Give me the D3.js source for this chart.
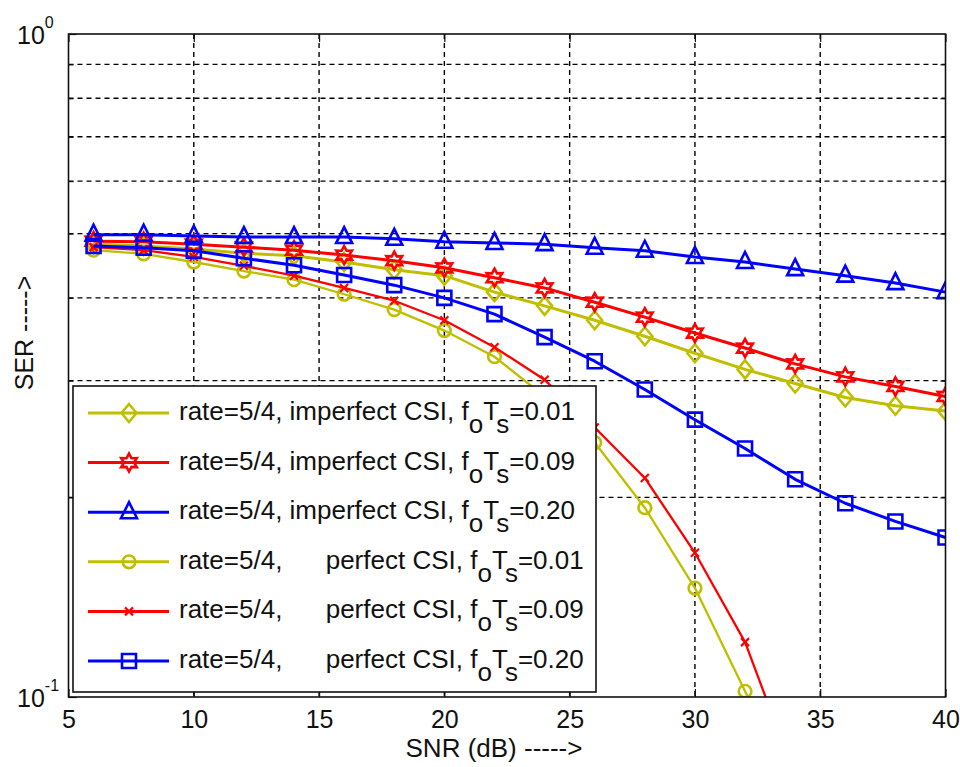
<!DOCTYPE html>
<html>
<head>
<meta charset="utf-8">
<script src="https://cdn.jsdelivr.net/npm/d3@7"></script>
<style>
  body { margin: 0; background: #fff; }
  svg { display: block; font-family: "Liberation Sans", Arial, sans-serif; }
</style>
</head>
<body>
<svg id="chart" width="960" height="767"></svg>
<script>
// ---------------- data ----------------
const snrImperfect = [6, 8, 10, 12, 14, 16, 18, 20, 22, 24, 26, 28, 30, 32, 34, 36, 38, 40];
const snrPerfect   = [6, 8, 10, 12, 14, 16, 18, 20, 22, 24, 26, 28, 30, 32, 34];

const serImperfect001 = [0.482, 0.479, 0.474, 0.467, 0.463, 0.453, 0.441, 0.432, 0.408, 0.389, 0.370, 0.350, 0.330, 0.312, 0.297, 0.283, 0.275, 0.270];
const serImperfect009 = [0.487, 0.486, 0.482, 0.477, 0.472, 0.464, 0.455, 0.444, 0.429, 0.414, 0.394, 0.374, 0.354, 0.336, 0.318, 0.304, 0.294, 0.284];
const serImperfect020 = [0.498, 0.498, 0.496, 0.494, 0.494, 0.494, 0.491, 0.486, 0.484, 0.482, 0.476, 0.471, 0.461, 0.453, 0.442, 0.432, 0.421, 0.408];
const serPerfect001   = [0.472, 0.466, 0.453, 0.439, 0.426, 0.405, 0.384, 0.357, 0.326, 0.284, 0.242, 0.193, 0.146, 0.102, 0.070];
const serPerfect009   = [0.477, 0.472, 0.461, 0.447, 0.432, 0.414, 0.396, 0.370, 0.337, 0.301, 0.255, 0.214, 0.165, 0.121, 0.076];
const serPerfect020   = [0.479, 0.476, 0.471, 0.459, 0.448, 0.433, 0.418, 0.400, 0.378, 0.349, 0.321, 0.291, 0.262, 0.237, 0.213, 0.196, 0.184, 0.174];

const xTicks = [5, 10, 15, 20, 25, 30, 35, 40];
const yMinorTicks = [0.2, 0.3, 0.4, 0.5, 0.6, 0.7, 0.8, 0.9];
const yDecadeTicks = [0.1, 1];
const yDecadeExponents = ["-1", "0"];

const seriesLabels = [
  ["rate=5/4, imperfect CSI, f", "o", "T", "s", "=0.01"],
  ["rate=5/4, imperfect CSI, f", "o", "T", "s", "=0.09"],
  ["rate=5/4, imperfect CSI, f", "o", "T", "s", "=0.20"],
  ["rate=5/4,      perfect CSI, f", "o", "T", "s", "=0.01"],
  ["rate=5/4,      perfect CSI, f", "o", "T", "s", "=0.09"],
  ["rate=5/4,      perfect CSI, f", "o", "T", "s", "=0.20"]
];
const seriesColors = ["#BFBF00", "#FF0000", "#0000FF", "#BFBF00", "#FF0000", "#0000FF"];
const seriesMarkers = ["diamond", "hexagram", "triangle", "circle", "x", "square"];
const xLabel = "SNR (dB) ----->";
const yLabel = "SER ----->";

const series = [
  { x: snrImperfect, y: serImperfect001 },
  { x: snrImperfect, y: serImperfect009 },
  { x: snrImperfect, y: serImperfect020 },
  { x: snrPerfect,   y: serPerfect001 },
  { x: snrPerfect,   y: serPerfect009 },
  { x: snrImperfect, y: serPerfect020 }
].map((s, i) => ({
  points: s.x.map((v, j) => [v, s.y[j]]),
  color: seriesColors[i],
  marker: seriesMarkers[i],
  label: seriesLabels[i],
  width: (i === 3 || i === 4) ? 2.3 : 3
}));

// ---------------- layout ----------------
const L = 68.5, R = 945.5, T = 34, B = 697;
const svg = d3.select("#chart");
svg.append("rect").attr("width", 960).attr("height", 767).attr("fill", "#fff");

const x = d3.scaleLinear().domain([5, 40]).range([L, R]);
const y = d3.scaleLog().domain([0.1, 1]).range([B, T]);

svg.append("defs").append("clipPath").attr("id", "plotclip")
  .append("rect").attr("x", L).attr("y", T).attr("width", R - L).attr("height", B - T);

// grid
const grid = svg.append("g").attr("stroke", "#000").attr("stroke-width", 1.4)
  .attr("stroke-dasharray", "5,4");
grid.selectAll("line.vx").data(xTicks.slice(1, -1)).enter().append("line")
  .attr("x1", d => x(d)).attr("x2", d => x(d)).attr("y1", T).attr("y2", B);
grid.selectAll("line.hy").data(yMinorTicks).enter().append("line")
  .attr("y1", d => y(d)).attr("y2", d => y(d)).attr("x1", L).attr("x2", R);

// marker shapes
function markerPath(type) {
  switch (type) {
    case "diamond": return "M0,-9L7.5,0L0,9L-7.5,0Z";
    case "triangle": return "M0,-10L8,6L-8,6Z";
    case "square": return "M-7,-7H7V7H-7Z";
    case "x": return "M-4,-4L4,4M-4,4L4,-4";
    case "circle": return d3.symbol(d3.symbolCircle, 125)();
    case "hexagram": {
      const pts = [];
      for (let k = 0; k < 12; k++) {
        const r = k % 2 === 0 ? 9 : 5;
        const a = -Math.PI / 2 + k * Math.PI / 6;
        pts.push([r * Math.cos(a), r * Math.sin(a)]);
      }
      return "M" + pts.map(p => p.join(",")).join("L") + "Z";
    }
  }
}

// lines + markers
const plot = svg.append("g").attr("clip-path", "url(#plotclip)");
const lineGen = d3.line().x(d => x(d[0])).y(d => y(d[1]));
series.forEach(s => {
  const g = plot.append("g");
  g.append("path").attr("d", lineGen(s.points)).attr("fill", "none")
    .attr("stroke", s.color).attr("stroke-width", s.width).attr("stroke-linejoin", "round");
  g.selectAll("path.m").data(s.points).enter().append("path")
    .attr("transform", d => `translate(${x(d[0])},${y(d[1])})`)
    .attr("d", markerPath(s.marker)).attr("fill", "none")
    .attr("stroke", s.color).attr("stroke-width", s.marker === "x" ? 2.2 : 2.6);
});

// axes
const fontSize = 25;
const xAxisB = d3.axisBottom(x).tickValues(xTicks).tickSizeInner(-8).tickSizeOuter(0).tickPadding(13).tickFormat(d3.format("d"));
const gxb = svg.append("g").attr("transform", `translate(0,${B})`).call(xAxisB);
gxb.selectAll("text").attr("font-size", fontSize).attr("font-family", "Liberation Sans, Arial, sans-serif").attr("fill", "#111");
const xAxisT = d3.axisTop(x).tickValues(xTicks).tickSizeInner(-8).tickSizeOuter(0).tickFormat("");
svg.append("g").attr("transform", `translate(0,${T})`).call(xAxisT);

const yAxisMinorL = d3.axisLeft(y).tickValues(yMinorTicks).tickSizeInner(-5).tickSizeOuter(0).tickFormat("");
svg.append("g").attr("transform", `translate(${L},0)`).call(yAxisMinorL);
const yAxisMinorR = d3.axisRight(y).tickValues(yMinorTicks).tickSizeInner(-5).tickSizeOuter(0).tickFormat("");
svg.append("g").attr("transform", `translate(${R},0)`).call(yAxisMinorR);

const yAxisDec = d3.axisLeft(y).tickValues(yDecadeTicks).tickSizeInner(-8).tickSizeOuter(0).tickFormat(() => "10");
const gyd = svg.append("g").attr("transform", `translate(${L},0)`).call(yAxisDec);
gyd.selectAll(".tick text")
  .attr("font-size", fontSize).attr("fill", "#111").attr("text-anchor", "start")
  .attr("x", 17 - L).attr("dy", null).attr("y", 9)
  .each(function(d) {
    d3.select(this).append("tspan").attr("font-size", 16).attr("dy", -16).text(yDecadeExponents[yDecadeTicks.indexOf(d)]);
  });

svg.selectAll(".domain").remove();
svg.selectAll(".tick line").attr("stroke", "#111").attr("stroke-width", 1.2);

// box
svg.append("rect").attr("x", L).attr("y", T).attr("width", R - L).attr("height", B - T)
  .attr("fill", "none").attr("stroke", "#111").attr("stroke-width", 1.6);

// axis labels
svg.append("text").attr("x", 494).attr("y", 757).attr("text-anchor", "middle")
  .attr("font-size", 26).attr("fill", "#111").text(xLabel);
svg.append("text").attr("transform", "translate(33,333) rotate(-90)").attr("text-anchor", "middle")
  .attr("font-size", fontSize).attr("fill", "#111").text(yLabel);

// legend
const lfs = 26;
const lg = svg.append("g");
lg.append("rect").attr("x", 73).attr("y", 386).attr("width", 523).attr("height", 306)
  .attr("fill", "#fff").attr("stroke", "#111").attr("stroke-width", 1.6);
series.forEach((s, i) => {
  const cy = 413 + i * 49.6;
  lg.append("line").attr("x1", 88).attr("x2", 169).attr("y1", cy).attr("y2", cy)
    .attr("stroke", s.color).attr("stroke-width", 3);
  lg.append("path").attr("transform", `translate(129,${cy})`).attr("d", markerPath(s.marker))
    .attr("fill", "none").attr("stroke", s.color).attr("stroke-width", s.marker === "x" ? 2.2 : 2.6);
  const t = lg.append("text").attr("x", 179).attr("y", cy + 7).attr("font-size", lfs)
    .attr("fill", "#111").style("white-space", "pre");
  t.append("tspan").text(s.label[0]);
  t.append("tspan").attr("dy", 13).text(s.label[1]);
  t.append("tspan").attr("dy", -13).text(s.label[2]);
  t.append("tspan").attr("dy", 13).text(s.label[3]);
  t.append("tspan").attr("dy", -13).text(s.label[4]);
});
</script>
</body>
</html>
